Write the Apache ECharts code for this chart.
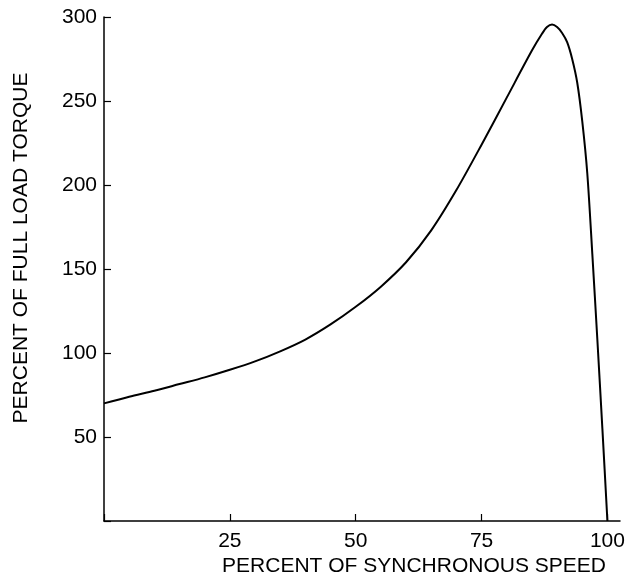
<!DOCTYPE html>
<html>
<head>
<meta charset="utf-8">
<script src="https://cdn.jsdelivr.net/npm/echarts@6/dist/echarts.min.js"></script>
<style>html,body{margin:0;padding:0;background:#fff}#c{width:628px;height:586px}</style>
</head>
<body>
<div id="c"></div>
<script>
const speed = [0, 5, 10, 15, 20, 25, 30, 35, 40, 45, 50, 55, 60, 65, 70, 75, 80, 85, 87, 88, 89, 90, 91, 92, 93, 94, 95, 96, 97, 98, 99, 100];
const torque = [70, 74, 77.5, 81.5, 85.5, 90, 95, 101, 108, 117, 127.5, 139.5, 154, 173, 197, 224, 252, 280, 290, 294, 295.5, 294, 290.5, 285, 275, 261, 238, 207, 159, 108, 55, 0];
const xTicks = [25, 50, 75, 100];
const yTicks = [50, 100, 150, 200, 250, 300];
const xTitle = 'PERCENT OF SYNCHRONOUS SPEED';
const yTitle = 'PERCENT OF FULL LOAD TORQUE';

const chart = echarts.init(document.getElementById('c'), null, {renderer: 'canvas'});
const font = 'Liberation Sans, Arial, Helvetica, sans-serif';
chart.setOption({
  animation: false,
  backgroundColor: '#fff',
  grid: {left: 104, right: 8, top: 17, bottom: 65, containLabel: false},
  xAxis: {
    type: 'value', min: 0, max: 102.5, interval: 25,
    axisLine: {lineStyle: {color: '#000', width: 1.5}},
    axisTick: {inside: true, length: 7, lineStyle: {color: '#000', width: 1.2}},
    splitLine: {show: false},
    axisLabel: {
      color: '#000', fontSize: 21, fontFamily: font, margin: 10,
      formatter: v => xTicks.includes(v) ? String(v) : '',
      showMaxLabel: false
    }
  },
  yAxis: {
    type: 'value', min: 0, max: 300, interval: 50,
    axisLine: {lineStyle: {color: '#000', width: 1.5}},
    axisTick: {inside: true, length: 7, lineStyle: {color: '#000', width: 1.2}},
    splitLine: {show: false},
    axisLabel: {
      color: '#000', fontSize: 21, fontFamily: font, margin: 7,
      formatter: v => yTicks.includes(v) ? String(v) : ''
    }
  },
  graphic: [
    {type: 'text', x: 414, y: 566, style: {text: xTitle, fill: '#000', font: '21px ' + font, textAlign: 'center', textVerticalAlign: 'middle'}},
    {type: 'text', x: 21, y: 248, rotation: Math.PI / 2, style: {text: yTitle, fill: '#000', font: '21px ' + font, textAlign: 'center', textVerticalAlign: 'middle'}}
  ],
  series: [{
    type: 'line',
    data: speed.map((s, i) => [s, torque[i]]),
    smooth: 0.3,
    showSymbol: false,
    lineStyle: {color: '#000', width: 2}
  }]
});
</script>
</body>
</html>
